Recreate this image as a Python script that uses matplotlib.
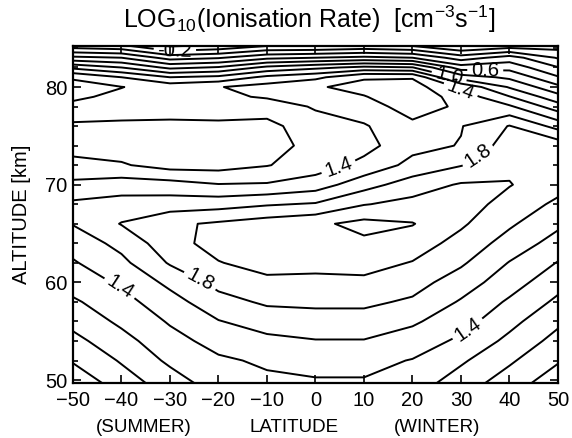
import numpy as np
import matplotlib
matplotlib.use('Agg')
import matplotlib.pyplot as plt

plt.rcParams['font.family'] = ['Liberation Sans', 'DejaVu Sans']
plt.rcParams['mathtext.fontset'] = 'custom'
plt.rcParams['mathtext.rm'] = 'Liberation Sans'
plt.rcParams['mathtext.it'] = 'Liberation Sans'

# grid
lat = [-50, -40, -30, -20, -10, 0, 10, 20, 30, 40, 50]
alt = [49.7, 52, 54, 56, 58, 60, 62, 64, 66, 68, 70, 72, 74, 76, 78, 79, 80, 81, 82, 83, 84.2]

# log10 ionisation rate, one row per altitude (lat -50 ... 50)
log_rate = [
    [0.65, 0.90, 1.10, 1.30, 1.36, 1.38, 1.38, 1.30, 1.10, 0.90, 0.68],   # 49.7
    [0.82, 1.02, 1.24, 1.37, 1.43, 1.46, 1.46, 1.39, 1.23, 1.03, 0.82],   # 52
    [0.94, 1.13, 1.33, 1.47, 1.55, 1.59, 1.59, 1.51, 1.36, 1.15, 0.93],   # 54
    [1.06, 1.24, 1.42, 1.59, 1.69, 1.72, 1.72, 1.63, 1.48, 1.26, 1.04],   # 56
    [1.17, 1.33, 1.52, 1.73, 1.83, 1.84, 1.84, 1.77, 1.58, 1.37, 1.16],   # 58
    [1.29, 1.43, 1.65, 1.86, 1.95, 1.95, 1.96, 1.88, 1.70, 1.49, 1.27],   # 60
    [1.38, 1.55, 1.82, 1.99, 2.08, 2.06, 2.07, 1.99, 1.83, 1.59, 1.39],   # 62
    [1.48, 1.66, 1.92, 2.08, 2.15, 2.17, 2.16, 2.10, 1.93, 1.72, 1.52],   # 64
    [1.61, 1.81, 1.96, 2.03, 2.10, 2.16, 2.26, 2.21, 2.03, 1.83, 1.64],   # 66
    [1.64, 1.68, 1.70, 1.72, 1.78, 1.82, 1.99, 2.06, 2.10, 1.92, 1.76],   # 68
    [1.44, 1.50, 1.48, 1.41, 1.42, 1.50, 1.72, 1.90, 2.02, 2.01, 1.87],   # 70
    [1.28, 1.22, 1.12, 1.12, 1.19, 1.30, 1.46, 1.66, 1.79, 1.96, 1.94],   # 72
    [1.10, 1.10, 1.06, 1.06, 1.10, 1.28, 1.33, 1.54, 1.61, 1.90, 1.92],   # 74
    [1.16, 1.16, 1.15, 1.16, 1.14, 1.32, 1.38, 1.56, 1.59, 1.81, 1.53],   # 76
    [1.36, 1.30, 1.30, 1.30, 1.30, 1.42, 1.52, 1.68, 1.57, 1.43, 1.09],   # 78
    [1.43, 1.36, 1.35, 1.36, 1.42, 1.52, 1.59, 1.72, 1.52, 1.21, 0.87],   # 79
    [1.46, 1.405, 1.32, 1.39, 1.48, 1.58, 1.66, 1.70, 1.36, 0.98, 0.65],  # 80
    [1.38, 1.20, 1.00, 1.05, 1.25, 1.35, 1.58, 1.58, 0.90, 0.76, 0.42],   # 81
    [0.95, 0.80, 0.55, 0.62, 0.85, 0.95, 1.05, 1.01, 0.50, 0.53, 0.21],   # 82
    [0.45, 0.40, 0.12, 0.18, 0.35, 0.40, 0.45, 0.40, 0.10, 0.29, -0.02],  # 83
    [-0.10, -0.15, -0.42, -0.35, -0.20, -0.20, -0.15, -0.20, -0.40, -0.30, -0.29],  # 84.2
]

plain_levels = [-1.0, -0.8, -0.6, -0.4, 0.0, 0.2, 0.4, 0.8, 1.2, 1.6, 2.0, 2.2, 2.4]
label_levels = [-0.2, 0.6, 1.0, 1.4, 1.8]
label_spots = [(-29, 83.7), (27.6, 81.2), (35, 81.6), (30, 79.8), (4.5, 72.2),
               (33, 73.3), (-24, 60.0), (-40.5, 59.3), (32, 54.8)]

# bottom caption row (lat position of each word)
caption = ['(SUMMER)', 'LATITUDE', '(WINTER)']
caption_lat = [-35.5, -4.5, 25]

fig = plt.figure(figsize=(5.72, 4.38), dpi=100)
ax = fig.add_axes([0.1276, 0.1256, 0.8479, 0.7694])

z = np.array(log_rate)
ax.contour(lat, alt, z, levels=plain_levels, colors='black',
           linewidths=1.4, linestyles='solid')
cs = ax.contour(lat, alt, z, levels=label_levels, colors='black',
                linewidths=1.4, linestyles='solid')
ax.clabel(cs, manual=label_spots, fmt='%.1f', fontsize=14.5,
          inline=True, inline_spacing=4)

ax.set_xlim(-50, 50)
ax.set_ylim(49.7, 84.2)
ax.set_xticks(np.arange(-50, 51, 10))
ax.set_yticks([50, 60, 70, 80])
ax.set_yticks(np.arange(50, 85, 2), minor=True)
ax.tick_params(which='both', direction='in', top=True, right=True, labelsize=14.5)
ax.tick_params(axis='x', which='major', pad=6)
ax.tick_params(axis='y', which='major', pad=4)
ax.tick_params(which='major', length=5.5, width=1.2)
ax.tick_params(which='minor', length=3.5, width=1.2)
for sp in ax.spines.values():
    sp.set_linewidth(1.6)

fig.text(309 / 572, 1 - 19 / 438,
         r'LOG$_{10}$(Ionisation Rate)  [cm$^{-3}$s$^{-1}$]',
         ha='center', va='center', fontsize=18)
ax.set_ylabel('ALTITUDE [km]', fontsize=14.5, va='center')
ax.yaxis.set_label_coords(-0.107, 0.5)
trans = ax.get_xaxis_transform()
for word, x in zip(caption, caption_lat):
    ax.text(x, -0.1335, word, transform=trans, ha='center', va='center', fontsize=13.5)

fig.savefig('out.png', dpi=100)
